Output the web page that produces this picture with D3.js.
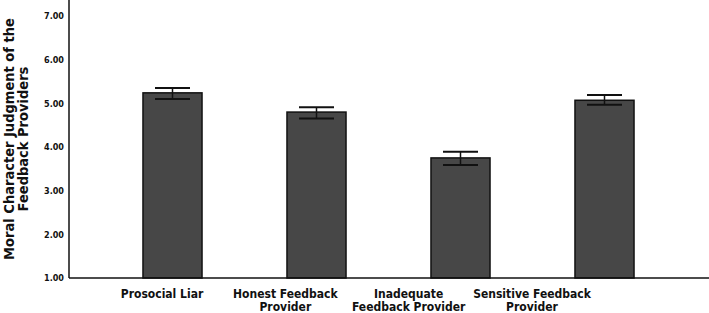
<!DOCTYPE html>
<html>
<head>
<meta charset="utf-8">
<script src="https://cdn.jsdelivr.net/npm/d3@7"></script>
<style>
  body { margin: 0; background: #fff; }
  svg text { font-family: "DejaVu Sans Condensed", "DejaVu Sans", sans-serif; font-weight: bold; fill: #111; }
</style>
</head>
<body>
<div id="chart"></div>
<script>
var categories = ['Prosocial Liar', 'Honest Feedback Provider', 'Inadequate Feedback Provider', 'Sensitive Feedback Provider']
var labelLines = [['Prosocial Liar'], ['Honest Feedback', 'Provider'], ['Inadequate', 'Feedback Provider'], ['Sensitive Feedback', 'Provider']]
var means = [5.24, 4.80, 3.75, 5.07]
var errLow = [5.10, 4.65, 3.59, 4.97]
var errHigh = [5.35, 4.91, 3.89, 5.19]
var yTicks = [1, 2, 3, 4, 5, 6, 7]
var yTitle = ['Moral Character Judgment of the', 'Feedback Providers']

var width = 709, height = 313
var axisX = 69, axisY = 278

var svg = d3.select('#chart').append('svg')
  .attr('width', width)
  .attr('height', height)

var data = categories.map(function (c, i) {
  return { cat: c, mean: means[i], lo: errLow[i], hi: errHigh[i], lines: labelLines[i] }
})

var x = d3.scaleBand()
  .domain(categories)
  .range([100.5, 676.5])
  .paddingInner(0.59)
  .paddingOuter(0.295)

// labels sit a bit left of the bars in the original
var xLabel = d3.scalePoint()
  .domain(categories)
  .range([162, 532])

var y = d3.scaleLinear()
  .domain([1, 7])
  .range([axisY, 16])

// bars
svg.append('g').selectAll('rect')
  .data(data)
  .enter().append('rect')
  .attr('x', function (d) { return x(d.cat) })
  .attr('y', function (d) { return y(d.mean) })
  .attr('width', x.bandwidth())
  .attr('height', function (d) { return axisY - y(d.mean) })
  .attr('fill', '#474747')
  .attr('stroke', '#111')
  .attr('stroke-width', 1.5)

// error bars
var eb = svg.append('g').selectAll('g')
  .data(data)
  .enter().append('g')
  .attr('stroke', '#111')
var cx = function (d) { return x(d.cat) + x.bandwidth() / 2 }
eb.append('line')
  .attr('x1', cx).attr('x2', cx)
  .attr('y1', function (d) { return y(d.hi) })
  .attr('y2', function (d) { return y(d.lo) })
  .attr('stroke-width', 1.5)
eb.selectAll('.cap')
  .data(function (d) { return [d.hi, d.lo].map(function (v) { return { cat: d.cat, v: v } }) })
  .enter().append('line')
  .attr('class', 'cap')
  .attr('x1', function (d) { return cx(d) - 17.5 })
  .attr('x2', function (d) { return cx(d) + 17.5 })
  .attr('y1', function (d) { return y(d.v) })
  .attr('y2', function (d) { return y(d.v) })
  .attr('stroke-width', 2)

// y axis
var yAxis = d3.axisLeft(y)
  .tickValues(yTicks)
  .tickSize(0)
  .tickPadding(5)
  .tickFormat(d3.format('.2f'))
var gy = svg.append('g')
  .attr('transform', 'translate(' + axisX + ',0)')
  .call(yAxis)
gy.select('.domain').remove()
gy.selectAll('.tick text')
  .style('font-size', '9px')
  .attr('fill', '#111')

svg.append('line')
  .attr('x1', axisX).attr('x2', axisX)
  .attr('y1', 0).attr('y2', axisY)
  .attr('stroke', '#111').attr('stroke-width', 1.5)
svg.append('line')
  .attr('x1', axisX).attr('x2', width)
  .attr('y1', axisY).attr('y2', axisY)
  .attr('stroke', '#111').attr('stroke-width', 1.5)

// x labels
var xl = svg.append('g').selectAll('text')
  .data(data)
  .enter().append('text')
  .attr('text-anchor', 'middle')
  .style('font-size', '12px')
  .attr('transform', function (d) { return 'translate(' + xLabel(d.cat) + ',298)' })
xl.selectAll('tspan')
  .data(function (d) { return d.lines })
  .enter().append('tspan')
  .attr('x', 0)
  .attr('dy', function (d, i) { return i === 0 ? 0 : 13 })
  .text(function (d) { return d })

// y title
var yt = svg.append('text')
  .attr('text-anchor', 'middle')
  .style('font-size', '14.5px')
  .attr('transform', 'translate(14,139) rotate(-90)')
yt.selectAll('tspan')
  .data(yTitle)
  .enter().append('tspan')
  .attr('x', 0)
  .attr('dy', function (d, i) { return i === 0 ? 0 : 14 })
  .text(function (d) { return d })
</script>
</body>
</html>
